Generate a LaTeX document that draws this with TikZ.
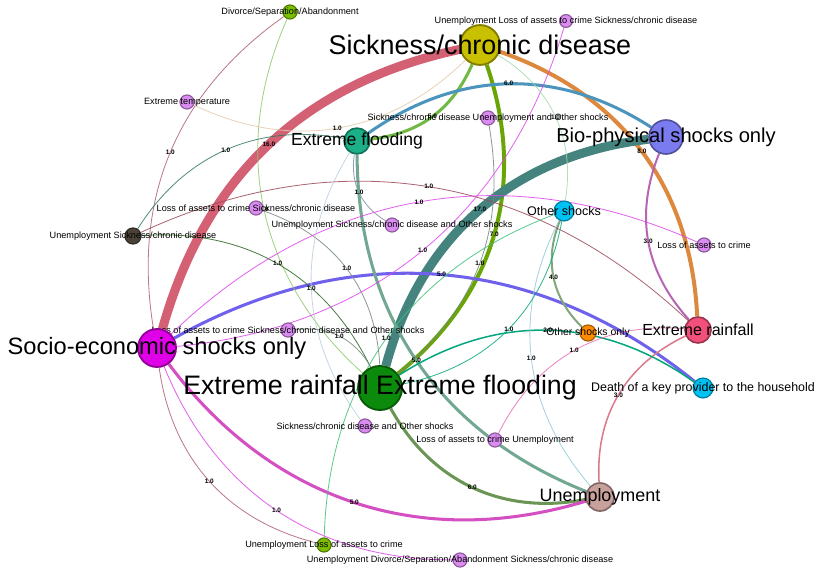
\documentclass[tikz,border=0pt]{standalone}
\usepackage{fontspec}
\setmainfont{Liberation Sans}
\usepackage{tikz}
\usetikzlibrary{backgrounds}
\definecolor{cdiv}{HTML}{7CBF00}
\definecolor{cvio}{HTML}{DA8CF0}
\definecolor{csick}{HTML}{C8C000}
\definecolor{cflood}{HTML}{1CB088}
\definecolor{cbio}{HTML}{7B7BF0}
\definecolor{cunsick}{HTML}{4A4238}
\definecolor{cother}{HTML}{00C2F2}
\definecolor{csocio}{HTML}{E000E8}
\definecolor{crain}{HTML}{F0507A}
\definecolor{conly}{HTML}{FF8C00}
\definecolor{cerf}{HTML}{0C8A0C}
\definecolor{cunemp}{HTML}{C8A09C}
\newcommand\fsz[1]{\fontsize{#1pt}{#1pt}\selectfont}

\begin{document}
\begin{tikzpicture}[x=0.03cm, y=-0.03cm,
  nd/.style={circle, draw=#1!65!black, fill=#1, line width=1pt, inner sep=0pt, minimum size=12pt},
  sm/.style={font=\fsz{7.8}},
  wt/.style={font=\bfseries\fsz{5.5}, text=black, inner sep=0pt},
  thinln/.style={line width=0.7pt, draw opacity=0.85}]
\useasboundingbox (0,0) rectangle (821,572);
\node[nd=cdiv, label ={[sm]center:Divorce/Separation/Abandonment}](divorce) at (290,12){};
\node[nd=cvio, minimum size=11pt, label ={[sm]center:Unemployment Loss of assets to crime Sickness/chronic disease}](ulcs) at (566,21){};
\node[nd=csick, minimum size=34pt, line width=1.6pt, label ={[font=\fsz{23}]center:Sickness/chronic disease}](sick) at (480,45){};
\node[nd=cvio, label ={[sm]center:Extreme temperature}](extemp) at (187,102){};
\node[nd=cflood, minimum size=22pt, line width=1.4pt, label ={[font=\fsz{15}]center:Extreme flooding}](exflood) at (357,141){};
\node[nd=cvio, label ={[sm]center:Sickness/chronic disease Unemployment and Other shocks}](scuos) at (488,118){};
\node[nd=cbio, minimum size=29pt, line width=1.4pt, label ={[font=\fsz{17.2}]center:Bio-physical shocks only}](bio) at (666,137){};
\node[nd=cvio, label ={[sm]center:Loss of assets to crime Sickness/chronic disease}](lacs) at (256,208){};
\node[nd=cunsick, minimum size=13.7pt, label ={[sm]center:Unemployment Sickness/chronic disease}](unsick) at (133,236){};
\node[nd=cvio, label ={[sm]center:Unemployment Sickness/chronic disease and Other shocks}](uscos) at (392,225){};
\node[nd=cother, minimum size=17pt, label ={[font=\fsz{10.7}]center:Other shocks}](oshocks) at (564,211){};
\node[nd=cvio, label ={[sm]center:Loss of assets to crime}](lac) at (704,245){};
\node[nd=cvio, label ={[sm]center:Loss of assets to crime Sickness/chronic disease and Other shocks}](lacsos) at (288,330){};
\node[nd=csocio, minimum size=32.4pt, line width=1.6pt, label ={[font=\fsz{20.2}]center:Socio-economic shocks only}](socio) at (157,348){};
\node[nd=crain, minimum size=22.2pt, line width=1.4pt, label ={[font=\fsz{13.7}]center:Extreme rainfall}](exrain) at (698,330){};
\node[nd=conly, minimum size=13.7pt, label ={[font=\fsz{8.9}]center:Other shocks only}](osonly) at (588,333){};
\node[nd=cerf, minimum size=37.6pt, line width=1.6pt, label ={[font=\fsz{22.8}]center:Extreme rainfall Extreme flooding}](erf) at (380,388){};
\node[nd=cother, minimum size=17pt, label ={[font=\fsz{10.6}]center:Death of a key provider to the household}](death) at (703,388){};
\node[nd=cvio, label ={[sm]center:Sickness/chronic disease and Other shocks}](scos) at (365,426){};
\node[nd=cvio, label ={[sm]center:Loss of assets to crime Unemployment}](lacu) at (495,440){};
\node[nd=cunemp, minimum size=23.9pt, line width=1.4pt, label ={[font=\fsz{15.3}]center:Unemployment}](unemp) at (600,497){};
\node[nd=cdiv, label ={[sm]center:Unemployment Loss of assets to crime}](ulac) at (324,545){};
\node[nd=cvio, label ={[sm]center:Unemployment Divorce/Separation/Abandonment Sickness/chronic disease}](udss) at (460,560){};
\begin{scope}[on background layer]
\draw [csick!50!csocio, line width=7.7pt](sick) to[bend right=31] node[wt]{16.0} (socio);
\draw [csick!50!crain, line width=3.4pt](sick) to[bend left=34] node[wt]{8.0} (exrain);
\draw [cflood!50!csick, line width=2.6pt](exflood) to[bend right=30] node[wt]{5.0} (sick);
\draw [csick!50!cerf, line width=3.4pt](sick) to[bend left=35] node[wt]{7.0} (erf);
\draw [cbio!50!cerf, line width=7.7pt](bio) to[bend right=34] node[wt]{17.0} (erf);
\draw [cflood!50!cbio, line width=2.6pt](exflood) to[bend left=34] node[wt]{6.0} (bio);
\draw [csocio!50!cother, line width=2.6pt](socio) to[bend left=34] node[wt]{5.0} (death);
\draw [cbio!50!crain, line width=1.7pt](bio) to[bend right=32] node[wt]{3.0} (exrain);
\draw [cflood!50!cunemp, line width=2.6pt](exflood) to[bend right=34] node[wt]{5.0} (unemp);
\draw [cerf!50!cunemp, line width=2.6pt](erf) to[bend right=36] node[wt]{6.0} (unemp);
\draw [csocio!50!cunemp, line width=2.6pt](socio) to[bend right=35] node[wt]{5.0} (unemp);
\draw [cother!50!conly, line width=1.7pt](oshocks) to[bend right=34] node[wt]{4.0} (osonly);
\draw [crain!50!cunemp, line width=1.3pt](exrain) to[bend right=34] node[wt]{3.0} (unemp);
\draw [cerf!50!cother, line width=1.3pt](erf) to[bend left=34] node[wt]{2.0} (death);
\draw [thinln, cdiv!50!csocio](divorce) to[bend right=32] node[wt]{1.0} (socio);
\draw [thinln, cdiv!50!cerf!60!white](divorce) to[bend right=36] node[wt]{1.0} (erf);
\draw [thinln, cvio!50!csick!60!white](extemp) to[bend right=35] node[wt]{1.0} (sick);
\draw [thinln, cunsick!50!cflood](unsick) to[bend left=34] node[wt]{1.0} (exflood);
\draw [thinln, cunsick!50!crain](unsick) to[bend left=34] node[wt]{1.0} (exrain);
\draw [thinln, cunsick!50!cerf](unsick) to[bend left=34] node[wt]{1.0} (erf);
\draw [thinln, cvio!50!cerf!70!gray](lacs) to[bend left=34] node[wt]{1.0} (erf);
\draw [thinln, cvio!50!cflood!60!gray](uscos) to[bend left=34] node[wt]{1.0} (exflood);
\draw [thinln, cvio!50!cerf!70!gray](scuos) to[bend left=30] node[wt]{1.0} (erf);
\draw [thinln, cvio!50!csocio](socio) to[bend right=34] node[wt]{1.0} (ulcs);
\draw [thinln, cvio!50!csocio](socio) to[bend left=34] node[wt]{1.0} (lac);
\draw [thinln, cvio!50!crain](lacu) to[bend left=34] node[wt]{1.0} (exrain);
\draw [thinln, cflood!50!cvio!50!white](exflood) to[bend right=34] node[wt]{1.0} (scos);
\draw [thinln, cother!50!cunemp!70!white](oshocks) to[bend right=34] node[wt]{1.0} (unemp);
\draw [thinln, cother!50!cerf](oshocks) to[bend left=34] node[wt]{1.0} (erf);
\draw [thinln, cother!50!cdiv](oshocks) to[bend right=34] node[wt]{1.0} (ulac);
\draw [thinln, csick!50!cother!60!white](sick) to[bend left=34] node[wt]{1.0} (oshocks);
\draw [thinln, csocio!50!cdiv](socio) to[bend right=34] node[wt]{1.0} (ulac);
\draw [thinln, csocio!50!cvio](socio) to[bend right=34] node[wt]{1.0} (udss);
\draw [thinln, cvio!50!cerf!70!gray](lacsos) to[bend left=34] node[wt]{1.0} (erf);
\end{scope}
\end{tikzpicture}
\end{document}
